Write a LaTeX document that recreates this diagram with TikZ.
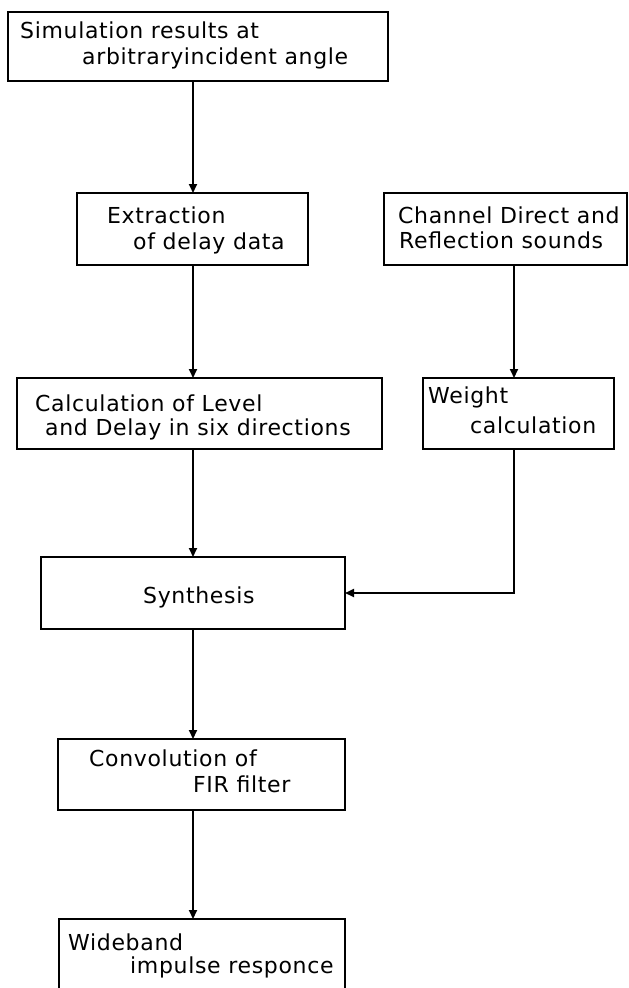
\documentclass[tikz,border=0pt]{standalone}
\usepackage{fontspec}
\setmainfont[LetterSpace=3]{DejaVu Sans}
\usetikzlibrary{arrows.meta}
\begin{document}
\begin{tikzpicture}[x=1pt,y=-1pt,
  box/.style={draw, line width=2pt, inner sep=0pt, outer sep=0pt, rectangle},
  txt/.style={anchor=base west, inner sep=0pt, font=\fontsize{22}{26}\selectfont},
  arr/.style={line width=2pt, -{Triangle[length=9pt,width=8pt]}}]
\useasboundingbox (0,0) rectangle (629,988);
\clip (0,0) rectangle (629,988);
% boxes
\node[box, minimum width=380pt, minimum height=69pt] (b1) at (198,46.5) {};
\node[box, minimum width=231pt, minimum height=72pt] (b2) at (192.5,229) {};
\node[box, minimum width=243pt, minimum height=72pt] (b3) at (505.5,229) {};
\node[box, minimum width=365pt, minimum height=71pt] (b4) at (199.5,413.5) {};
\node[box, minimum width=191pt, minimum height=71pt] (b5) at (518.5,413.5) {};
\node[box, minimum width=304pt, minimum height=72pt] (b6) at (193,593) {};
\node[box, minimum width=287pt, minimum height=71pt] (b7) at (201.5,774.5) {};
\node[box, minimum width=286pt, minimum height=90pt] (b8) at (202,964) {};
% texts
\node[txt] (t1a) at (20,38) {Simulation results at};
\node[txt] (t1b) at (82,64) {arbitraryincident angle};
\node[txt] (t2a) at (107,223) {Extraction};
\node[txt] (t2b) at (133,249) {of delay data};
\node[txt] (t3a) at (398,223) {Channel Direct and};
\node[txt] (t3b) at (399,248) {Reflection sounds};
\node[txt] (t4a) at (35,411) {Calculation of Level};
\node[txt] (t4b) at (45,435) {and Delay in six directions};
\node[txt] (t5a) at (428,403) {Weight};
\node[txt] (t5b) at (470,433) {calculation};
\node[txt] (t6) at (143,603) {Synthesis};
\node[txt] (t7a) at (89,766) {Convolution of};
\node[txt] (t7b) at (193,792) {FIR filter};
\node[txt] (t8a) at (68,950) {Wideband};
\node[txt] (t8b) at (130,973) {impulse responce};
% connectors
\coordinate (mainx) at (193,0);
\coordinate (sidex) at (514,0);
\draw[arr] (b1.south -| mainx) -- (b2.north -| mainx);
\draw[arr] (b2.south -| mainx) -- (b4.north -| mainx);
\draw[arr] (b4.south -| mainx) -- (b6.north -| mainx);
\draw[arr] (b6.south -| mainx) -- (b7.north -| mainx);
\draw[arr] (b7.south -| mainx) -- (b8.north -| mainx);
\draw[arr] (b3.south -| sidex) -- (b5.north -| sidex);
\draw[arr] (b5.south -| sidex) |- (b6.east);
\end{tikzpicture}
\end{document}
